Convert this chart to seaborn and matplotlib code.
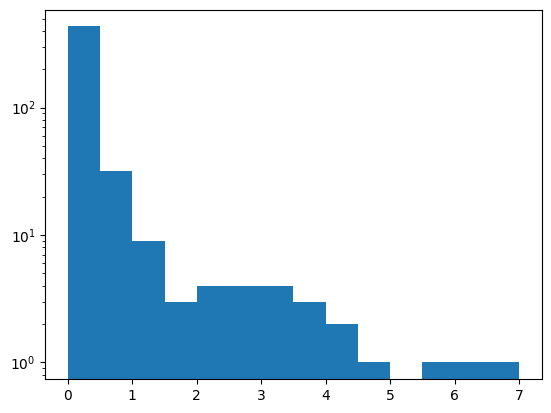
import matplotlib
matplotlib.use("Agg")
import matplotlib.pyplot as plt
import seaborn as sns
import numpy as np
import pandas as pd

bin_edges = [0.0, 0.5, 1.0, 1.5, 2.0, 2.5, 3.0, 3.5, 4.0, 4.5, 5.0, 5.5, 6.0, 6.5, 7.0]
counts = [435, 32, 9, 3, 4, 4, 4, 3, 2, 1, 0, 1, 1, 1]

centers = [(a + b) / 2 for a, b in zip(bin_edges[:-1], bin_edges[1:])]
df = pd.DataFrame({"x": centers, "w": counts})

fig = plt.figure(figsize=(5.51, 4.13), dpi=100)
ax = fig.add_axes([0.0822, 0.082, 0.983 - 0.0822, 0.976 - 0.082])
sns.histplot(data=df, x="x", weights="w", bins=bin_edges, color="#1f77b4",
             alpha=1, linewidth=0, ax=ax)
ax.set_yscale("log")
ax.set_ylim(0.74, 585)
ax.set_xlim(-0.35, 7.35)
ax.set_xlabel("")
ax.set_ylabel("")
fig.savefig("out.png", dpi=100)
